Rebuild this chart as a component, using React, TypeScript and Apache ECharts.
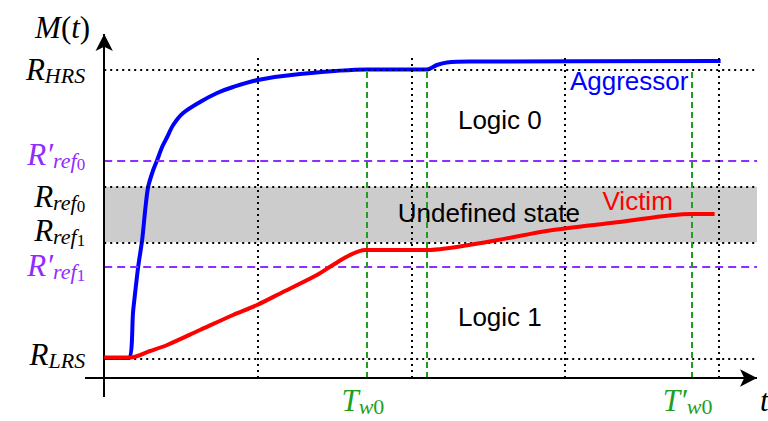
import { useEffect, useRef } from 'react';
import * as echarts from 'echarts';

// Axis extents (time in arbitrary units, memory state M(t) in arbitrary units)
const X_MIN = -0.125;
const X_MAX = 4.25;
const Y_MIN = -1.9;
const Y_MAX = 34.5;

// Aggressor cell trajectory
const aggressorT = [0, 0.156, 0.189, 0.221, 0.247, 0.267, 0.286, 0.319, 0.345, 0.377, 0.41, 0.449, 0.514, 0.624, 0.735, 0.839, 1.0, 1.275, 1.71, 2.1, 2.166, 2.231, 2.38, 4.013];
const aggressorM = [2.0, 2.0, 6.8, 11.1, 13.8, 16.8, 19.1, 20.8, 21.8, 23.1, 24.1, 25.3, 26.5, 27.6, 28.5, 29.1, 29.8, 30.4, 30.85, 30.85, 31.3, 31.55, 31.65, 31.7];

// Victim cell trajectory
const victimT = [0, 0.169, 0.299, 0.41, 0.624, 0.839, 0.995, 1.164, 1.385, 1.489, 1.6, 1.698, 2.1, 2.491, 2.92, 3.356, 3.824, 3.974];
const victimM = [2.05, 2.05, 2.7, 3.3, 4.8, 6.3, 7.3, 8.6, 10.3, 11.3, 12.3, 12.8, 12.8, 13.6, 14.8, 15.6, 16.4, 16.4];

// Resistance levels on the M(t) axis
const levelKeys = ['LRS', 'refp1', 'ref1', 'ref0', 'refp0', 'HRS'];
const levelValues = [1.9, 11.13, 13.57, 19.13, 21.73, 30.87];
const levelLabels = [
  '{m|R}{s|LRS}',
  '{m|R′}{s|ref}{ss|1}',
  '{m|R}{s|ref}{ss|1}',
  '{m|R}{s|ref}{ss|0}',
  '{m|R′}{s|ref}{ss|0}',
  '{m|R}{s|HRS}',
];
const levelPrimed = [false, true, false, false, true, false];
// vertical nudge of each level label (px) so stacked labels do not collide
const levelLabelShift = [-5, -1.7, -11.8, 9.3, -6, 0];

// Time grid and write pulses
const gridTimes = [1, 2, 3, 4];
const gridTop = 32.4;
const writeTimes = [1.71, 2.1, 3.824];
const writeLabels = ['{m|T}{s|w}{sd|0}', '', '{m|T′}{s|w}{sd|0}'];

// Region annotations
const noteTexts = ['Logic 0', 'Undefined state', 'Logic 1', 'Aggressor', 'Victim'];
const noteT = [2.576, 2.504, 2.576, 3.418, 3.473];
const noteM = [25.8, 16.5, 6.1, 29.7, 17.7];
const noteColors = ['#000000', '#000000', '#000000', '#0000ff', '#ff0000'];

const SERIF = "'Liberation Serif', 'DejaVu Serif', serif";
const SANS = "'Liberation Sans', Arial, sans-serif";
const PURPLE = '#8f2cff';
const GREEN = '#1f9f1f';

// main glyphs centred on a 26px line; subscripts pushed down with top padding
const mathRich = (fill: string) => ({
  m: { fill, fontFamily: SERIF, fontStyle: 'italic', fontSize: 31, lineHeight: 26 },
  u: { fill, fontFamily: SERIF, fontSize: 31, lineHeight: 26 },
  s: { fill, fontFamily: SERIF, fontStyle: 'italic', fontSize: 22, lineHeight: 10, height: 10, verticalAlign: 'top', padding: [14, 0, 0, 0] },
  sd: { fill, fontFamily: SERIF, fontSize: 22, lineHeight: 10, height: 10, verticalAlign: 'top', padding: [14, 0, 0, 0] },
  ss: { fill, fontFamily: SERIF, fontSize: 17, lineHeight: 10, height: 10, verticalAlign: 'top', padding: [18, 0, 0, 0] },
});

const pairs = (xs: number[], ys: number[]) => xs.map((x, i) => [x, ys[i]]);

export default function App() {
  const ref = useRef<HTMLDivElement>(null);

  useEffect(() => {
    const chart = echarts.init(ref.current!, null, { renderer: 'svg' });

    const dotted = { color: '#000000', width: 2, type: [2, 4], opacity: 1 };
    const purpleDash = { color: PURPLE, width: 2, type: [8, 5], opacity: 1 };
    const greenDash = { color: GREEN, width: 2, type: [6, 4], opacity: 1 };

    const levelLines = levelValues.map((v, i) => [
      { coord: [0, v], lineStyle: levelPrimed[i] ? purpleDash : dotted },
      { coord: [X_MAX, v] },
    ]);
    const gridLines = gridTimes.map((t) => [
      { coord: [t, 0], lineStyle: dotted },
      { coord: [t, gridTop] },
    ]);
    const hrs = levelValues[levelKeys.indexOf('HRS')];
    const writeLines = writeTimes.map((t) => [
      { coord: [t, 0], lineStyle: greenDash },
      { coord: [t, hrs] },
    ]);
    const ref0 = levelValues[levelKeys.indexOf('ref0')];
    const ref1 = levelValues[levelKeys.indexOf('ref1')];

    chart.setOption({
      animation: false,
      grid: { left: 85, right: 11, top: 33, bottom: 24 },
      xAxis: { type: 'value', min: X_MIN, max: X_MAX, show: false },
      yAxis: { type: 'value', min: Y_MIN, max: Y_MAX, show: false },
      series: [
        {
          name: 'band',
          type: 'line',
          data: [],
          z: 1,
          silent: true,
          markArea: {
            silent: true,
            itemStyle: { color: '#cccccc', opacity: 1 },
            data: [[{ coord: [0, ref1] }, { coord: [X_MAX, ref0] }]],
          },
        },
        {
          name: 'guides',
          type: 'line',
          data: [],
          z: 2,
          silent: true,
          markLine: {
            silent: true,
            symbol: 'none',
            label: { show: false },
            emphasis: { disabled: true },
            data: [...levelLines, ...gridLines, ...writeLines],
          },
        },
        {
          name: 'Aggressor',
          type: 'line',
          data: pairs(aggressorT, aggressorM),
          showSymbol: false,
          smooth: 0.3,
          z: 4,
          lineStyle: { color: '#0000ff', width: 4 },
          itemStyle: { color: '#0000ff' },
        },
        {
          name: 'Victim',
          type: 'line',
          data: pairs(victimT, victimM),
          showSymbol: false,
          smooth: 0.3,
          z: 5,
          lineStyle: { color: '#ff0000', width: 4 },
          itemStyle: { color: '#ff0000' },
        },
        {
          name: 'axes',
          type: 'line',
          data: [],
          z: 6,
          silent: true,
          markLine: {
            silent: true,
            symbol: ['none', 'arrow'],
            symbolSize: [13, 17],
            label: { show: false },
            emphasis: { disabled: true },
            lineStyle: { color: '#000000', width: 2, type: 'solid', opacity: 1 },
            data: [
              [{ coord: [X_MIN, 0] }, { coord: [X_MAX, 0] }],
              [{ coord: [0, Y_MIN] }, { coord: [0, Y_MAX - 0.1] }],
            ],
          },
        },
      ],
    });

    const px = (x: number, y: number) => chart.convertToPixel({ gridIndex: 0 }, [x, y]) as number[];
    const graphic: any[] = [];

    // M(t) axis title
    const top = px(0, Y_MAX);
    graphic.push({
      type: 'text', silent: true, x: top[0] - 14, y: top[1] - 6,
      style: { text: '{m|M}{u|(}{m|t}{u|)}', rich: mathRich('#000000'), align: 'right', verticalAlign: 'middle' },
    });

    // level labels
    levelValues.forEach((v, i) => {
      const p = px(0, v);
      graphic.push({
        type: 'text', silent: true, x: p[0] - 19, y: p[1] + levelLabelShift[i],
        style: {
          text: levelLabels[i],
          rich: mathRich(levelPrimed[i] ? PURPLE : '#000000'),
          align: 'right', verticalAlign: 'middle',
        },
      });
    });

    // write-time labels
    writeTimes.forEach((t, i) => {
      if (!writeLabels[i]) return;
      const p = px(t, 0);
      graphic.push({
        type: 'text', silent: true, x: p[0] - 4, y: p[1] + 22,
        style: { text: writeLabels[i], rich: mathRich(GREEN), align: 'center', verticalAlign: 'middle' },
      });
    });

    // time axis title
    const end = px(X_MAX, 0);
    graphic.push({
      type: 'text', silent: true, x: end[0] + 3, y: end[1] + 22,
      style: { text: '{m|t}', rich: mathRich('#000000'), align: 'left', verticalAlign: 'middle' },
    });

    // region annotations
    noteTexts.forEach((txt, i) => {
      const p = px(noteT[i], noteM[i]);
      graphic.push({
        type: 'text', silent: true, x: p[0], y: p[1], z: 10,
        style: {
          text: txt, fill: noteColors[i], fontFamily: SANS, fontSize: 26,
          align: 'center', verticalAlign: 'middle',
        },
      });
    });

    chart.setOption({ graphic });

    return () => chart.dispose();
  }, []);

  return <div ref={ref} style={{ position: 'absolute', left: 0, top: 0, width: 768, height: 421 }} />;
}
